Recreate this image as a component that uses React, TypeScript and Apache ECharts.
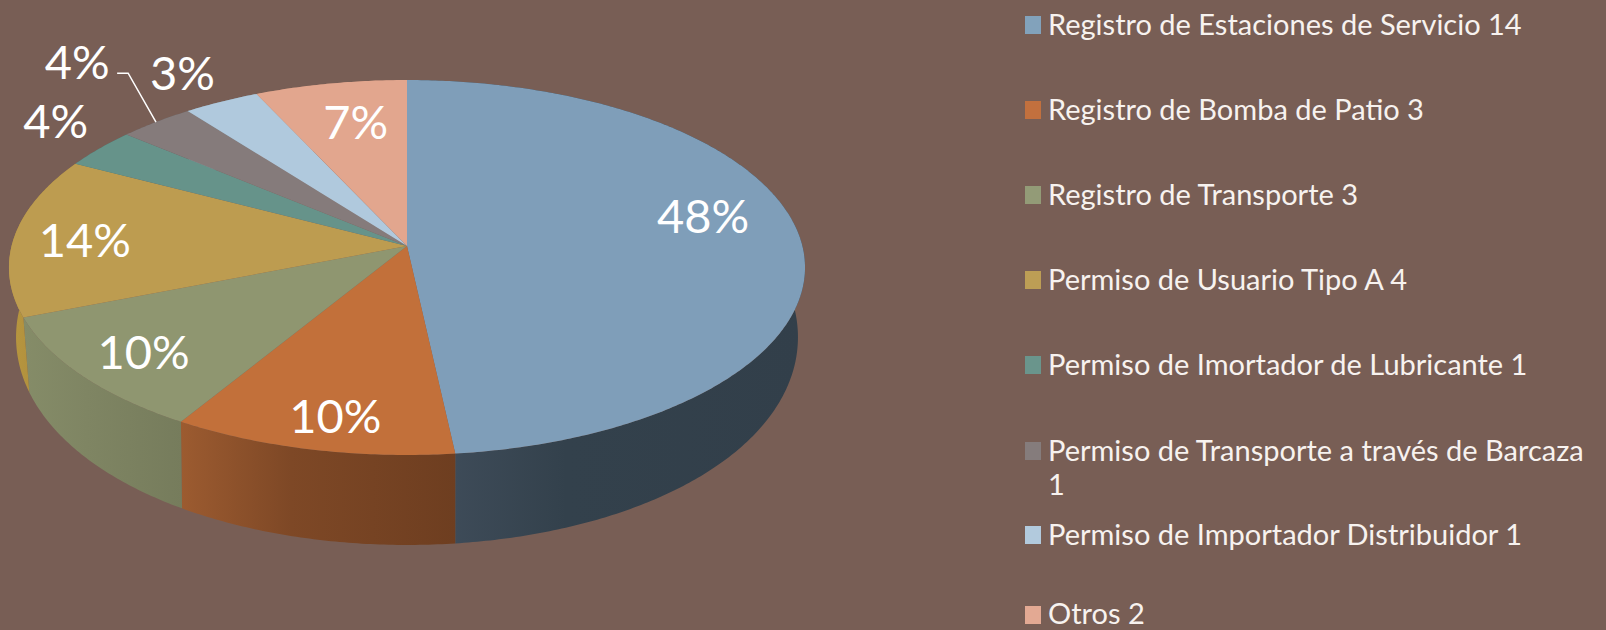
import React, { useEffect, useRef } from "react";
import * as echarts from "echarts";

const names = [
  "Registro de Estaciones de Servicio",
  "Registro de Bomba de Patio",
  "Registro de Transporte",
  "Permiso de Usuario Tipo A",
  "Permiso de Imortador de Lubricante",
  "Permiso de Transporte a través de Barcaza",
  "Permiso de Importador Distribuidor",
  "Otros",
];
const values = [14, 3, 3, 4, 1, 1, 1, 2];
const percentLabels = ["48%", "10%", "10%", "14%", "4%", "4%", "3%", "7%"];

const topColors = ["#7f9eb9", "#c2703a", "#8f9670", "#bd9c50", "#66938a", "#857b7b", "#b0c9dd", "#e2a68e"];
const swatchColors = ["#82a2bb", "#c2703e", "#939b77", "#bd9e55", "#6a958c", "#857c7c", "#b2cadd", "#e3a993"];
const wallLeft = ["#424f5d", "#9c5b30", "#858c68", "#b8973f", "#4c6d67", "#635b5b", "#84959f", "#a87c6a"];
const wallMid = ["#33414c", "#7e4826", "#7f8563", "#b08f3d", "#4c6d67", "#635b5b", "#84959f", "#a87c6a"];
const wallRight = ["#323f4a", "#6e3e20", "#767c5c", "#a8873a", "#4c6d67", "#635b5b", "#84959f", "#a87c6a"];
const labelOffsets = [[21, -24], [-7, 32], [-41, 17], [-47, 0], [-132, -56], [-150, -96], [-91, -70], [4, -8]];

const total = values.reduce((a, b) => a + b, 0);
const BG = "#785e55";
const CX = 407, CY = 246, R = 395.4, S = 185, K = 0.1147;
const FONT = "Lato, sans-serif";

function project(theta: number, rho = 1) {
  const u = Math.sin(theta) * rho;
  const v = -Math.cos(theta) * rho;
  const d = 1 - K * v;
  return { x: CX + (R * u) / d, y: CY + (S * v) / d, v };
}
function projectBottom(theta: number) {
  const p = project(theta);
  const h = 66 + 24 * Math.max(0, p.v);
  const narrowing = 1 - 0.018 * (1 - p.v * p.v);
  return { x: CX + (p.x - CX) * narrowing, y: p.y + h };
}
function sliceAngles(i: number) {
  let before = 0;
  for (let k = 0; k < i; k++) before += values[k];
  return [(before / total) * 2 * Math.PI, ((before + values[i]) / total) * 2 * Math.PI];
}
function arc(a0: number, a1: number, fn: (t: number) => { x: number; y: number }) {
  const n = Math.max(4, Math.ceil((a1 - a0) / 0.01));
  const pts: number[][] = [];
  for (let j = 0; j <= n; j++) {
    const p = fn(a0 + ((a1 - a0) * j) / n);
    pts.push([p.x, p.y]);
  }
  return pts;
}

function buildOption() {
  const seriesData = values.map((v, i) => ({ name: names[i], value: [v, i] }));
  const legendGraphics: any[] = [];
  names.forEach((name, i) => {
    const rowY = 25 + i * 85 + (i === 5 ? 1 : 0) - (i === 7 ? 5 : 0);
    const textY = rowY - (i === 7 ? 3 : 2);
    legendGraphics.push({
      type: "rect",
      shape: { x: 1025, y: rowY - 9, width: 16, height: 18 },
      style: { fill: swatchColors[i] },
    });
    legendGraphics.push({
      type: "text",
      style: {
        x: 1048,
        y: i === 5 ? textY - 17 : textY,
        text: `${name}${i === 5 ? "\n" : " "}${values[i]}`,
        fill: "#f7f2ef",
        font: `29px ${FONT}`,
        lineHeight: i === 5 ? 34 : 26,
        verticalAlign: i === 5 ? "top" : "middle",
      },
    });
  });

  return {
    animation: false,
    backgroundColor: BG,
    graphic: legendGraphics,
    series: [
      {
        type: "custom",
        coordinateSystem: "none",
        silent: true,
        data: seriesData,
        renderItem: (_p: any, api: any) => {
          const i = api.value(1);
          const [a0, a1] = sliceAngles(i);
          const top = arc(a0, a1, (t) => project(t));
          const bottom = arc(a0, a1, projectBottom).reverse();
          return {
            type: "polygon",
            shape: { points: top.concat(bottom) },
            style: {
              fill: new echarts.graphic.LinearGradient(0, 0, 1, 0, [
                { offset: 0, color: wallLeft[i] },
                { offset: 0.4, color: wallMid[i] },
                { offset: 1, color: wallRight[i] },
              ]),
            },
          };
        },
      },
      {
        type: "custom",
        coordinateSystem: "none",
        silent: true,
        data: seriesData,
        renderItem: (_p: any, api: any) => {
          const i = api.value(1);
          const [a0, a1] = sliceAngles(i);
          return {
            type: "polygon",
            shape: { points: [[CX, CY] as number[]].concat(arc(a0, a1, (t) => project(t))) },
            style: { fill: topColors[i] },
          };
        },
      },
      {
        type: "custom",
        coordinateSystem: "none",
        silent: true,
        z: 5,
        data: seriesData,
        renderItem: (_p: any, api: any) => {
          const i = api.value(1);
          const [a0, a1] = sliceAngles(i);
          const mid = (a0 + a1) / 2;
          const anchor = project(mid, 0.7);
          const [dx, dy] = labelOffsets[i];
          const children: any[] = [
            {
              type: "text",
              style: {
                x: anchor.x + dx,
                y: anchor.y + dy,
                text: percentLabels[i],
                fill: "#ffffff",
                font: `47px ${FONT}`,
                align: "center",
                verticalAlign: "middle",
              },
            },
          ];
          if (i === 5) {
            const edge = project(mid);
            children.push({
              type: "polyline",
              shape: { points: [[anchor.x + dx + 40, anchor.y + dy + 12], [anchor.x + dx + 51, anchor.y + dy + 12], [edge.x, edge.y]] },
              style: { stroke: "#ffffff", lineWidth: 1.5, fill: "none" },
            });
          }
          return { type: "group", children };
        },
      },
    ],
  };
}

export default function App() {
  const ref = useRef<HTMLDivElement>(null);
  useEffect(() => {
    document.body.style.margin = "0";
    const chart = echarts.init(ref.current!, null, { renderer: "svg" });
    chart.setOption(buildOption() as any);
    return () => chart.dispose();
  }, []);
  return <div ref={ref} style={{ width: 1606, height: 630 }} />;
}
